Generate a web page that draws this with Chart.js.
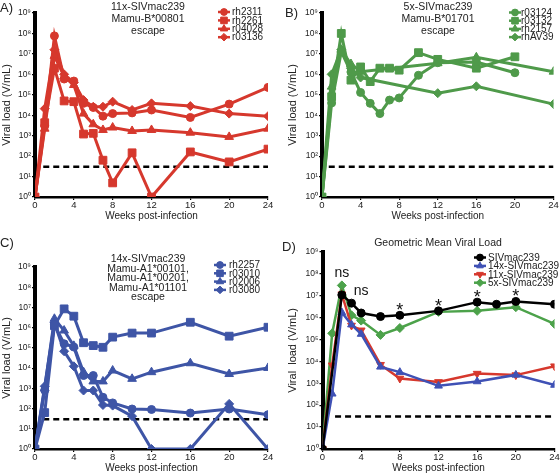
<!DOCTYPE html>
<html>
<head>
<meta charset="utf-8">
<script src="https://cdn.jsdelivr.net/npm/chart.js@4.4.1/dist/chart.umd.min.js"></script>
<style>
    body { margin: 0; background: #fff; font-family: 'Liberation Sans', Arial, sans-serif; color: #222; }
    #wrap { position: relative; width: 560px; height: 475px; overflow: hidden; }
    canvas { position: absolute; }
    .letra { position: absolute; font-size: 13px; line-height: 14px; }
    .titulo { position: absolute; transform: translateX(-50%); text-align: center; white-space: nowrap; font-size: 10.5px; }
</style>
</head>
<body>
<div id="wrap">
    <canvas id="chartA" width="280" height="237" style="left:0;top:0"></canvas>
    <canvas id="chartB" width="280" height="237" style="left:280px;top:0"></canvas>
    <canvas id="chartC" width="280" height="238" style="left:0;top:237px"></canvas>
    <canvas id="chartD" width="280" height="238" style="left:280px;top:237px"></canvas>

    <div class="letra" style="left:0;top:1px">A)</div>
    <div class="letra" style="left:285px;top:6px">B)</div>
    <div class="letra" style="left:0;top:236px">C)</div>
    <div class="letra" style="left:282px;top:240px">D)</div>

    <div class="titulo" style="left:148px;top:0;line-height:12px">11x-SIVmac239<br>Mamu-B*00801<br>escape</div>
    <div class="titulo" style="left:438px;top:0;line-height:12px">5x-SIVmac239<br>Mamu-B*01701<br>escape</div>
    <div class="titulo" style="left:148px;top:254px;line-height:9.6px">14x-SIVmac239<br>Mamu-A1*00101,<br>Mamu-A1*00201,<br>Mamu-A1*01101<br>escape</div>
    <div class="titulo" style="left:438px;top:236px;font-size:10.5px">Geometric Mean Viral Load</div>
</div>

<script>
// ==========================================================================
// Carga viral (V/mL) por semana post-infección, cuatro paneles A-D
// ==========================================================================

// ---- Semanas de muestreo ----
const semanasTodas = [0, 1, 2, 3, 4, 5, 6, 7, 8, 10, 12, 16, 20, 24];
const semanasHasta20 = [0, 1, 2, 3, 4, 5, 6, 7, 8, 10, 12, 16, 20];
const semanasPocas = [0, 1, 2, 3, 4, 12, 16, 24];
const semanasMedia = [0, 1, 2, 3, 4, 6, 8, 12, 16, 20, 24];
const semanasMac239 = [0, 2, 3, 4, 6, 8, 12, 16, 18, 20, 24];

// ---- Ejes ----
const ticksSemanas = [0, 4, 8, 12, 16, 20, 24];
const exponentesY = [0, 1, 2, 3, 4, 5, 6, 7, 8, 9];

// ---- Límite de detección (línea discontinua) ----
const limiteDeteccion = 30;
const limiteSemanasA = [0.85, 24];
const limiteSemanasB = [0.7, 24];
const limiteSemanasC = [0.85, 24];
const limiteSemanasD = [1.3, 24];

// ---- Panel A: 11x-SIVmac239 ----
const nombresA = ['rh2311', 'rh2261', 'r04028', 'r03136'];
const rh2311 = [1, 3e3, 7.6e7, 5.9e5, 4.7e5, 3.8e4, 2.4e4, 9e3, 1.2e4, 1.3e4, 1.8e4, 7.8e3, 3.5e4, 2.3e5];
const rh2261 = [1, 4.3e3, 2e6, 5e4, 4.6e4, 1.2e3, 1.3e3, 63, 4.9, 145, 1, 160, 52, 220];
const r04028 = [1, 2.2e3, 8e6, 8e5, 3e5, 1.2e4, 3.6e3, 1.9e3, 2.5e3, 1.7e3, 1.9e3, 1.4e3, 870, 2.2e3];
const r03136 = [1, 2.1e4, 1.6e7, 1e6, 4e5, 5.5e4, 2.6e4, 2.6e4, 4.6e4, 1.8e4, 3.8e4, 2.8e4, 1.2e4, 9e3];

// ---- Panel B: 5x-SIVmac239 ----
const nombresB = ['r03124', 'r03132', 'rh2157', 'rhAV39'];
const r03124 = [1, 4e4, 1.3e7, 1.3e6, 1.3e5, 3.8e4, 1.2e4, 5.5e4, 7e4, 9e5, 3.7e6, 4e6, 1.2e6];
const r03132 = [1, 8e4, 1e8, 5.2e5, 2.3e6, 4.4e5, 2e6, 2e6, 1.6e6, 1.15e7, 5.4e6, 2e6, 7.2e6];
const rh2157 = [1, 2.5e5, 1.6e7, 3.2e6, 1.35e6, 3.5e6, 6.8e6, 1.35e6];
const rhAV39 = [1, 1e6, 1.6e7, 2e6, 7e5, 1.2e5, 2.6e5, 3.5e4];

// ---- Panel C: 14x-SIVmac239 ----
const nombresC = ['rh2257', 'r03010', 'r02006', 'r03080'];
const rh2257 = [1, 800, 1.4e6, 1.6e5, 1.1e5, 4.3e3, 4.3e3, 360, 190, 95, 90, 60, 95, 50];
const r03010 = [1, 63, 1.25e6, 8.5e6, 3.7e6, 1.8e5, 1.3e5, 1.07e5, 3.4e5, 5.4e5, 5.4e5, 1.85e6, 3.8e5, 1.05e6];
const r02006 = [1, 1e3, 2.75e6, 7.2e5, 1.26e5, 6.3e3, 2.2e3, 2.2e3, 7.6e3, 2.95e3, 6.3e3, 1.74e4, 5.1e3, 1.02e4];
const r03080 = [1, 1.26e3, 1.74e6, 6.8e4, 1.23e4, 780, 780, 150, 140, 42, 1, 1, 170, 1];

// ---- Panel D: media geométrica ----
const nombresD = ['SIVmac239', '14x-SIVmac239', '11x-SIVmac239', '5x-SIVmac239'];
const mediaMac239 = [1, 1.07e7, 4.5e6, 1.6e6, 1.1e6, 1.25e6, 2e6, 5e6, 4e6, 5.4e6, 4e6];
const media14x = [1, 330, 1.7e6, 4.7e5, 1.75e5, 5.6e3, 3.2e3, 760, 1.2e3, 2.4e3, 830];
const media11x = [1, 6.6e3, 1.15e7, 4.3e5, 2.6e5, 7e3, 1.65e3, 1.15e3, 2.75e3, 2.35e3, 6e3];
const media5x = [1, 1.9e5, 2.9e7, 1.26e6, 7.2e5, 1.6e5, 3.3e5, 1.8e6, 2e6, 2.95e6, 5.1e5];

// ---- Significancia (panel D) ----
const semanasSig = [2, 4, 8, 12, 16, 20];
const textosSig = ['ns', 'ns', '*', '*', '*', '*'];

// Colores
const ROJO = '#d6382d';
const VERDE = '#4f9a4a';
const AZUL = '#3e55a6';
const AZUL_D = '#3f51b5';
const VERDE_D = '#4ca24a';
const NEGRO = '#000000';

const SUPERINDICES = ['⁰', '¹', '²', '³', '⁴', '⁵', '⁶', '⁷', '⁸', '⁹'];
const FUENTE = "'Liberation Sans', Arial, sans-serif";

Chart.defaults.font.family = FUENTE;
Chart.defaults.color = '#222';
Chart.defaults.animation = false;

/** Une semanas y valores en puntos {x, y} */
function puntos(semanas, valores) {
    return valores.map((v, i) => ({ x: semanas[i], y: v }));
}

/** Serie con marcador */
function serie(nombre, semanas, valores, color, forma, radio, extra) {
    return Object.assign({
        label: nombre,
        data: puntos(semanas, valores),
        borderColor: color,
        backgroundColor: color,
        borderWidth: 3,
        pointStyle: forma,
        pointRadius: radio,
        pointHoverRadius: radio,
        pointBorderWidth: 1,
        tension: 0
    }, extra || {});
}

/** Línea discontinua del límite de detección */
function lineaLimite(semanas) {
    return {
        label: '',
        esLimite: true,
        data: semanas.map(s => ({ x: s, y: limiteDeteccion })),
        borderColor: '#000',
        borderWidth: 2.5,
        borderDash: [6, 4],
        pointRadius: 0,
        pointHoverRadius: 0
    };
}

// Leyenda propia dibujada dentro del área (marcador con línea + texto)
const leyendaPanel = {
    id: 'leyendaPanel',
    afterDraw(chart, args, opts) {
        if (opts.x === undefined) return;
        const ctx = chart.ctx;
        ctx.save();
        ctx.font = opts.size + 'px ' + FUENTE;
        ctx.textBaseline = 'middle';
        let y = opts.y;
        chart.data.datasets.forEach(ds => {
            if (ds.esLimite) return;
            ctx.strokeStyle = ds.borderColor;
            ctx.lineWidth = 2.5;
            ctx.beginPath();
            ctx.moveTo(opts.x - 6, y);
            ctx.lineTo(opts.x + 6, y);
            ctx.stroke();
            ctx.fillStyle = ds.backgroundColor;
            ctx.lineWidth = 1;
            Chart.helpers.drawPoint(ctx, {
                pointStyle: ds.pointStyle,
                radius: ds.pointRadius * 0.85,
                rotation: ds.pointRotation || 0,
                borderWidth: 1
            }, opts.x, y);
            ctx.fillStyle = '#222';
            ctx.fillText(ds.label, opts.xTexto, y + 0.5);
            y += opts.dy;
        });
        ctx.restore();
    }
};

// Marcas de significancia sobre el valor más alto de cada semana
const marcasSig = {
    id: 'marcasSig',
    afterDatasetsDraw(chart, args, opts) {
        if (!opts.semanas) return;
        const ctx = chart.ctx;
        const ex = chart.scales.x, ey = chart.scales.y;
        ctx.save();
        ctx.fillStyle = '#111';
        ctx.textAlign = 'center';
        ctx.textBaseline = 'alphabetic';
        opts.semanas.forEach((s, i) => {
            let maximo = 1;
            chart.data.datasets.forEach(ds => ds.data.forEach(p => {
                if (p.x > s - 1.5 && p.x <= s && p.y > maximo) maximo = p.y;
            }));
            const txt = opts.textos[i];
            const yPx = ey.getPixelForValue(maximo);
            if (txt === '*') {
                ctx.font = '18px ' + FUENTE;
                ctx.fillText(txt, ex.getPixelForValue(s), yPx + 1);
            } else {
                ctx.font = '14px ' + FUENTE;
                ctx.fillText(txt, ex.getPixelForValue(s), yPx - 8);
            }
        });
        ctx.restore();
    }
};

/**
 * Crea un panel. "caja" fija el área de trazado dentro del canvas:
 * ancho del eje Y, alto del eje X y márgenes.
 */
function crearPanel(id, datasets, caja, leyenda, sig, tituloY) {
    new Chart(document.getElementById(id), {
        type: 'line',
        data: { datasets: datasets },
        options: {
            responsive: false,
            layout: { padding: { left: caja.izq, right: caja.der, top: caja.arriba, bottom: caja.abajo } },
            plugins: {
                legend: { display: false },
                tooltip: { enabled: false },
                leyendaPanel: leyenda,
                marcasSig: sig || {}
            },
            scales: {
                x: {
                    type: 'linear',
                    min: 0,
                    max: 24,
                    afterBuildTicks: s => { s.ticks = ticksSemanas.map(v => ({ value: v })); },
                    afterFit: s => { s.height = caja.altoX; },
                    ticks: { font: { size: 9.5 }, color: '#222', padding: 0, maxRotation: 0, autoSkip: false },
                    grid: { display: true, drawOnChartArea: false, drawTicks: true, tickLength: 3, color: '#000', lineWidth: 1.2 },
                    border: { display: true, color: '#000', width: 2.5 },
                    title: { display: true, text: 'Weeks post-infection', font: { size: 10 }, color: '#222', padding: { top: 0, bottom: 1 } }
                },
                y: {
                    type: 'logarithmic',
                    min: 1,
                    max: 1e9,
                    afterBuildTicks: s => { s.ticks = exponentesY.map(e => ({ value: Math.pow(10, e) })); },
                    afterFit: s => { s.width = caja.anchoY; },
                    ticks: {
                        font: { size: 8.5 },
                        color: '#222',
                        padding: 1,
                        autoSkip: false,
                        callback: v => '10' + SUPERINDICES[Math.round(Math.log10(v))]
                    },
                    grid: { display: true, drawOnChartArea: false, drawTicks: true, tickLength: 3, color: '#000', lineWidth: 1.2 },
                    border: { display: true, color: '#000', width: 4 },
                    title: { display: true, text: tituloY || 'Viral load (V/mL)', font: { size: 11 }, color: '#222', padding: 0 }
                }
            }
        },
        plugins: [leyendaPanel, marcasSig]
    });
}

// ---- Panel A ----
crearPanel('chartA', [
    serie(nombresA[0], semanasTodas, rh2311, ROJO, 'circle', 4),
    serie(nombresA[1], semanasTodas, rh2261, ROJO, 'rect', 5.5),
    serie(nombresA[2], semanasTodas, r04028, ROJO, 'triangle', 5),
    serie(nombresA[3], semanasTodas, r03136, ROJO, 'rectRot', 4.5),
    lineaLimite(limiteSemanasA)
], { izq: 0, der: 12, arriba: 13, abajo: 14, anchoY: 35, altoX: 26 },
   { x: 224, xTexto: 232, y: 12, dy: 8.4, size: 10 });

// ---- Panel B ----
crearPanel('chartB', [
    serie(nombresB[0], semanasHasta20, r03124, VERDE, 'circle', 4),
    serie(nombresB[1], semanasHasta20, r03132, VERDE, 'rect', 5.5),
    serie(nombresB[2], semanasPocas, rh2157, VERDE, 'triangle', 5),
    serie(nombresB[3], semanasPocas, rhAV39, VERDE, 'rectRot', 4.5),
    lineaLimite(limiteSemanasB)
], { izq: 6, der: 6, arriba: 13, abajo: 14, anchoY: 36, altoX: 26 },
   { x: 235, xTexto: 241, y: 12.5, dy: 8.2, size: 10 });

// ---- Panel C ----
crearPanel('chartC', [
    serie(nombresC[0], semanasTodas, rh2257, AZUL, 'circle', 4),
    serie(nombresC[1], semanasTodas, r03010, AZUL, 'rect', 5.5),
    serie(nombresC[2], semanasTodas, r02006, AZUL, 'triangle', 5),
    serie(nombresC[3], semanasTodas, r03080, AZUL, 'rectRot', 4.5),
    lineaLimite(limiteSemanasC)
], { izq: 0, der: 12, arriba: 30, abajo: 0, anchoY: 35, altoX: 26 },
   { x: 220, xTexto: 229, y: 28, dy: 8.3, size: 10 });

// ---- Panel D ----
crearPanel('chartD', [
    serie(nombresD[0], semanasMac239, mediaMac239, NEGRO, 'circle', 4, { borderWidth: 2.5 }),
    serie(nombresD[1], semanasMedia, media14x, AZUL_D, 'triangle', 4.5, { borderWidth: 2.5 }),
    serie(nombresD[2], semanasMedia, media11x, ROJO, 'triangle', 4.5, { borderWidth: 2.5, pointRotation: 180 }),
    serie(nombresD[3], semanasMedia, media5x, VERDE_D, 'rectRot', 4.5, { borderWidth: 2.5 }),
    lineaLimite(limiteSemanasD)
], { izq: 6, der: 5, arriba: 14.7, abajo: 0, anchoY: 36.5, altoX: 26 },
   { x: 200, xTexto: 208, y: 20.5, dy: 8.4, size: 10 },
   { semanas: semanasSig, textos: textosSig },
   'Viral  load (V/mL)');
</script>
</body>
</html>
